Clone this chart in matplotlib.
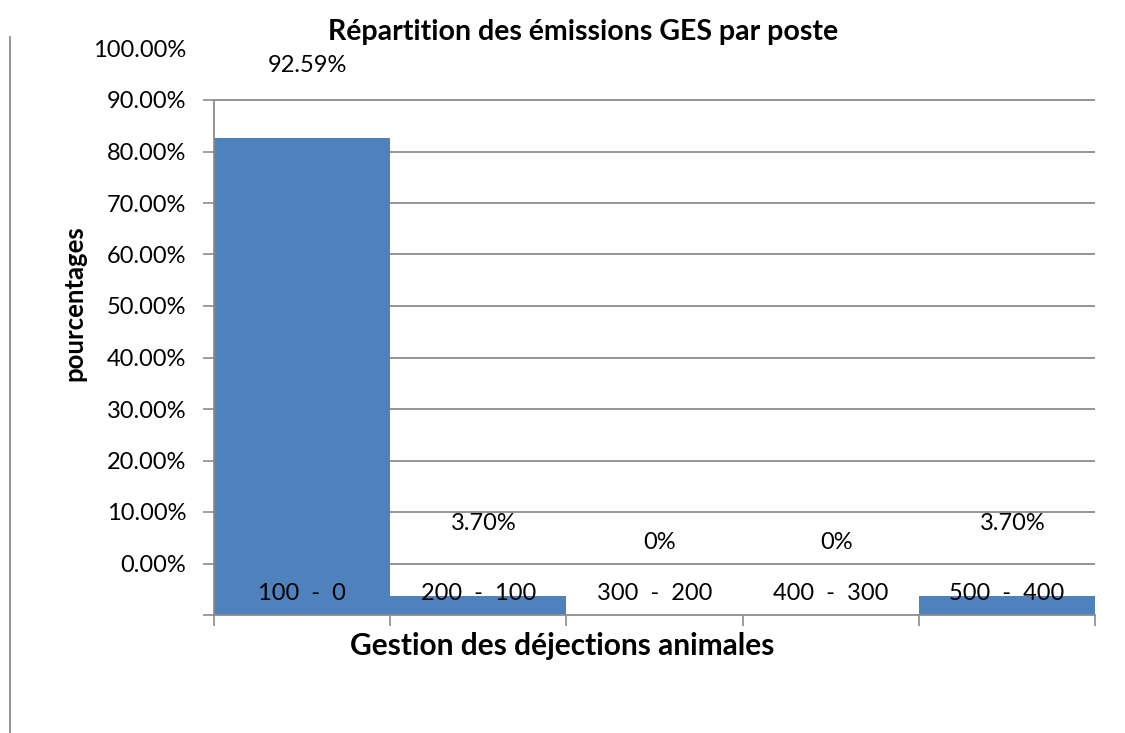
import matplotlib
matplotlib.use("Agg")
import matplotlib.pyplot as plt
from matplotlib.lines import Line2D
import numpy as np

categories = ["100  -  0", "200  -  100", "300  -  200", "400  -  300", "500  -  400"]
values = [0.9259, 0.0370, 0.0, 0.0, 0.0370]
value_labels = ["92.59%", "3.70%", "0%", "0%", "3.70%"]
tick_labels = ["0.00%", "10.00%", "20.00%", "30.00%", "40.00%", "50.00%",
               "60.00%", "70.00%", "80.00%", "90.00%", "100.00%"]

plt.rcParams['font.family'] = ['Lato', 'DejaVu Sans']

W, H = 1125, 733
fig = plt.figure(figsize=(W / 100, H / 100), dpi=100)
L, R, B, T = 214, 1095, 615, 48.5
ax = fig.add_axes([L / W, 1 - B / H, (R - L) / W, (B - T) / H])

bar_color = "#4F81BD"
grid_color = "#8C8C8C"
x = np.arange(len(categories))
ax.bar(x, values, width=1.0, color=bar_color, zorder=2)

ax.set_xlim(-0.5, len(categories) - 0.5)
ax.set_ylim(0, 1.1)

# y ticks (labels shifted one step, as in the reference)
ypos = np.arange(0, 1.01, 0.1)
ax.set_yticks(list(ypos) + [1.1])
ax.set_yticklabels([""] + tick_labels)
ax.tick_params(axis='y', length=8, width=1.2, color=grid_color, labelsize=17, pad=12)
ax.yaxis.get_major_ticks()[-1].tick1line.set_visible(False)

for yv in ypos[1:]:
    ax.axhline(yv, color=grid_color, lw=1.3, zorder=1)

# x ticks at category boundaries
ax.set_xticks(np.arange(-0.5, len(categories), 1.0))
ax.set_xticklabels([])
ax.tick_params(axis='x', length=8, width=1.2, color=grid_color)

for s in ['top', 'right']:
    ax.spines[s].set_visible(False)
for s in ['left', 'bottom']:
    ax.spines[s].set_color(grid_color)
    ax.spines[s].set_linewidth(1.3)
ax.spines['left'].set_bounds(0, 1.0)

# category labels inside the plot
for xi, c in zip(x, categories):
    ax.text(xi, 0.041, c, ha='center', va='center', fontsize=17, zorder=3)

# value labels
for xi, v, lab in zip(x, values, value_labels):
    ax.annotate(lab, (xi, v), xytext=(4, 52), textcoords='offset points',
                ha='center', va='center', fontsize=17, zorder=3)

fig.text(583 / W, 1 - 32 / H, "Répartition des émissions GES par poste",
         ha='center', va='center', fontsize=20.5, fontweight='bold')
fig.text(562 / W, 1 - 646 / H, "Gestion des déjections animales",
         ha='center', va='center', fontsize=21.5, fontweight='bold')
fig.text(74 / W, 1 - 303 / H, "pourcentages", rotation=90,
         ha='center', va='center', fontsize=18.5, fontweight='bold')

fig.add_artist(Line2D([10 / W, 10 / W], [0, 1 - 37 / H], color=grid_color, lw=1.3))

fig.savefig("out.png", dpi=100)
